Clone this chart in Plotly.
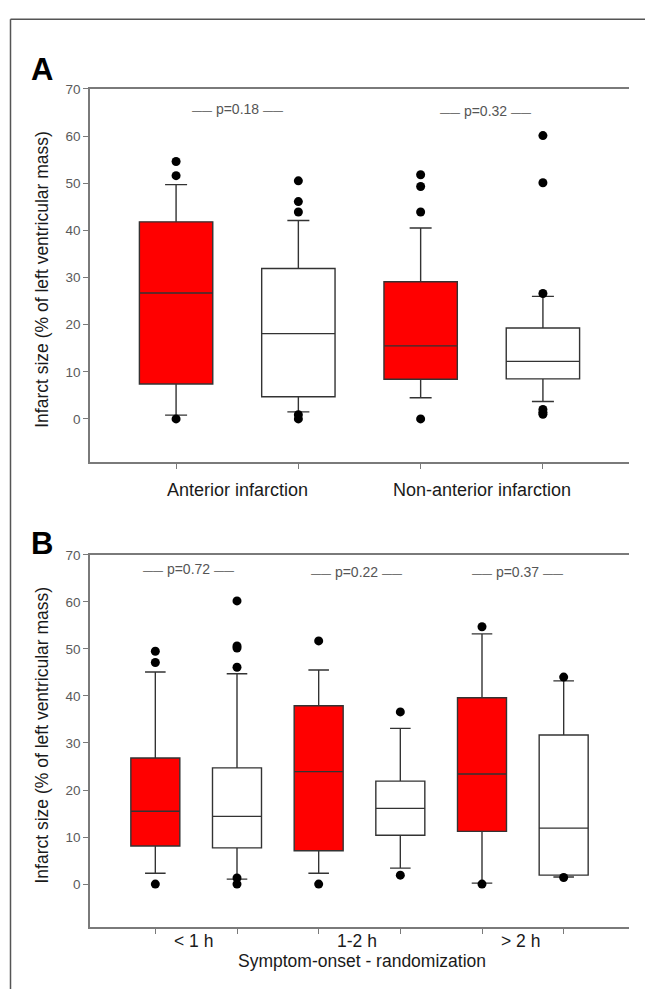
import plotly.graph_objects as go

# ---------------- Data ----------------
# Panel A: infarct location
groups_A = ["Anterior infarction", "Non-anterior infarction"]
red_q1_A = [7.4, 8.4]
red_med_A = [26.7, 15.5]
red_q3_A = [41.8, 29.1]
red_lo_A = [0.8, 4.5]
red_hi_A = [49.7, 40.5]
white_q1_A = [4.7, 8.5]
white_med_A = [18.1, 12.2]
white_q3_A = [31.9, 19.3]
white_lo_A = [1.5, 3.7]
white_hi_A = [42.1, 26.0]
red_out_A = [[54.6, 51.6, 0.0], [51.8, 49.3, 43.9, 0.0]]
white_out_A = [[50.5, 46.1, 43.9, 0.9, 0.0], [60.1, 50.1, 26.6, 2.0, 1.4, 1.0]]
p_A = ["p=0.18", "p=0.32"]
p_y_A = [65.7, 65.3]
p_x_A = [1.50, 3.53]

# Panel B: symptom-onset to randomization
groups_B = ["< 1 h", "1-2 h", "> 2 h"]
red_q1_B = [8.1, 7.1, 11.2]
red_med_B = [15.5, 23.9, 23.4]
red_q3_B = [26.8, 37.9, 39.6]
red_lo_B = [2.3, 2.3, 0.2]
red_hi_B = [45.1, 45.5, 53.2]
white_q1_B = [7.7, 10.4, 1.9]
white_med_B = [14.4, 16.1, 11.9]
white_q3_B = [24.7, 21.9, 31.7]
white_lo_B = [1.05, 3.4, 1.5]
white_hi_B = [44.7, 33.1, 43.2]
red_out_B = [[49.5, 47.1, 0.0], [51.7, 0.0], [54.7, 0.0]]
white_out_B = [[60.2, 50.6, 50.2, 46.1, 1.3, 0.0], [36.6, 1.9], [44.0, 1.4]]
p_B = ["p=0.72", "p=0.22", "p=0.37"]
p_y_B = [66.9, 66.3, 66.3]
p_x_B = [1.40, 3.46, 5.43]

y_ticks = [0, 10, 20, 30, 40, 50, 60, 70]
y_title = "Infarct size (% of left ventricular mass)"
x_title_B = "Symptom-onset - randomization"

# ---------------- Styles ----------------
RED = "#ff0000"
WHITE = "#ffffff"
BOXLINE = "#333333"
AXIS = "#7a7a7a"
SANS = "Liberation Sans, Arial, sans-serif"

fig = go.Figure()


def add_panel(xa, ya, q1r, medr, q3r, lor, hir, q1w, medw, q3w, low, hiw,
              outr, outw, whisk):
    n = len(q1r)
    pos_r = [2 * i + 1 for i in range(n)]
    pos_w = [2 * i + 2 for i in range(n)]
    for pos, q1, med, q3, lo, hi, fill in (
        (pos_r, q1r, medr, q3r, lor, hir, RED),
        (pos_w, q1w, medw, q3w, low, hiw, WHITE),
    ):
        fig.add_trace(go.Box(
            x=pos, q1=q1, median=med, q3=q3, lowerfence=lo, upperfence=hi,
            width=0.6, whiskerwidth=whisk, fillcolor=fill,
            line=dict(color=BOXLINE, width=1.4), boxpoints=False,
            xaxis=xa, yaxis=ya, showlegend=False, hoverinfo="skip",
        ))
    ox, oy = [], []
    for pos, outs in ((pos_r, outr), (pos_w, outw)):
        for p, vals in zip(pos, outs):
            ox += [p] * len(vals)
            oy += vals
    fig.add_trace(go.Scatter(
        x=ox, y=oy, mode="markers", xaxis=xa, yaxis=ya,
        marker=dict(color="black", size=9), showlegend=False, hoverinfo="skip",
    ))


add_panel("x", "y", red_q1_A, red_med_A, red_q3_A, red_lo_A, red_hi_A,
          white_q1_A, white_med_A, white_q3_A, white_lo_A, white_hi_A,
          red_out_A, white_out_A, 0.3)
add_panel("x2", "y2", red_q1_B, red_med_B, red_q3_B, red_lo_B, red_hi_B,
          white_q1_B, white_med_B, white_q3_B, white_lo_B, white_hi_B,
          red_out_B, white_out_B, 0.42)

xdom = [90 / 645, 629 / 645]
domA = [1 - 458.3 / 989, 1 - 82.5 / 989]
domB = [1 - 926.7 / 989, 1 - 551.7 / 989]

yax = dict(range=[-9.15, 70], tickvals=y_ticks, ticks="outside", ticklen=5,
           tickcolor=AXIS, tickwidth=1.2, showline=True, linecolor=AXIS,
           linewidth=1.5, showgrid=False, zeroline=False,
           tickfont=dict(family=SANS, size=13.5, color="#5a5a5a"))


def xax(n, rng):
    return dict(range=rng, tickvals=list(range(1, 2 * n + 1)),
                ticktext=[""] * (2 * n), ticks="outside", ticklen=5,
                tickcolor=AXIS, tickwidth=1.2, showline=True, mirror=True,
                linecolor=AXIS, linewidth=1.5, showgrid=False, zeroline=False,
                domain=xdom)


fig.update_layout(
    width=645, height=989, margin=dict(l=0, r=0, t=0, b=0),
    paper_bgcolor="white", plot_bgcolor="white",
    xaxis=xax(len(groups_A), [0.296, 4.704]),
    yaxis=dict(yax, domain=domA),
    xaxis2=dict(xax(len(groups_B), [0.2, 6.8]), anchor="y2"),
    yaxis2=dict(yax, domain=domB, anchor="x2"),
)

ann = []
# category labels
for i, g in enumerate(groups_A):
    ann.append(dict(text=g, x=2 * i + 1.5, xref="x", y=1 - 486.7 / 989, yref="paper",
                    showarrow=False, yanchor="middle",
                    font=dict(family=SANS, size=18, color="#1a1a1a")))
for i, g in enumerate(groups_B):
    ann.append(dict(text=g, x=2 * i + 1.5 - 0.03, xref="x2", y=1 - 941 / 989, yref="paper",
                    showarrow=False, yanchor="middle",
                    font=dict(family=SANS, size=17.5, color="#1a1a1a")))
ann.append(dict(text=x_title_B, x=362 / 645, xref="paper", y=1 - 961 / 989, yref="paper",
                showarrow=False, yanchor="middle",
                font=dict(family=SANS, size=17.5, color="#1a1a1a")))
# y titles
for yc in (1 - 274 / 989, 1 - 733 / 989):
    ann.append(dict(text=y_title, x=41.7 / 645, xref="paper", y=yc, yref="paper",
                    textangle=-90, showarrow=False, xanchor="center", yanchor="middle",
                    font=dict(family=SANS, size=17.5, color="#1a1a1a")))
# p values
dash = '<span style="font-size:10px">\u2014\u2014</span>'
for xa, ya, labels, xs, ys in (("x", "y", p_A, p_x_A, p_y_A), ("x2", "y2", p_B, p_x_B, p_y_B)):
    for lab, px, py in zip(labels, xs, ys):
        ann.append(dict(text=dash + " " + lab + " " + dash, x=px, xref=xa, y=py, yref=ya,
                        showarrow=False, yanchor="middle",
                        font=dict(family=SANS, size=14, color="#555555")))
# panel letters
for letter, yc in (("A", 1 - 63 / 989), ("B", 1 - 540 / 989)):
    ann.append(dict(text="<b>" + letter + "</b>", x=29 / 645, xref="paper", y=yc, yref="paper",
                    showarrow=False, xanchor="left", yanchor="middle",
                    font=dict(family=SANS, size=31, color="black")))
fig.update_layout(annotations=ann)

# outer frame (left and top edges)
fig.add_shape(type="line", xref="paper", yref="paper", x0=10.5 / 645, x1=1.0,
              y0=1 - 12.3 / 989, y1=1 - 12.3 / 989, line=dict(color="#555555", width=1.5))
fig.add_shape(type="line", xref="paper", yref="paper", x0=10.5 / 645, x1=10.5 / 645,
              y0=0, y1=1 - 12.3 / 989, line=dict(color="#555555", width=1.5))

fig.write_html("out.html", config={"displayModeBar": False},
               post_script="document.body.style.margin='0px';document.body.style.overflow='hidden';")
